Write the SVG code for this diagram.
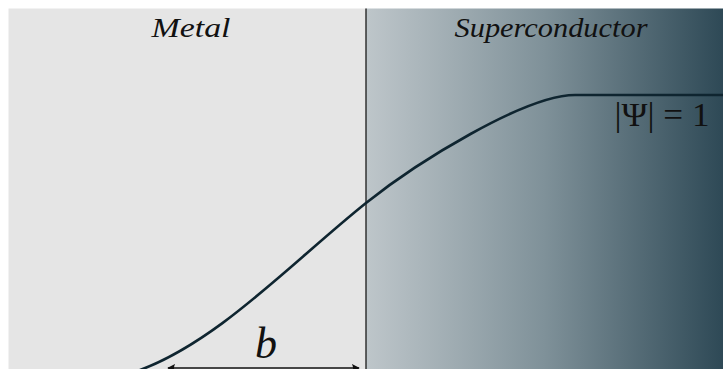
<svg xmlns="http://www.w3.org/2000/svg" width="723" height="369" viewBox="0 0 723 369">
<style>
.lbl{font-family:"Liberation Serif","DejaVu Serif",serif;fill:#111;}
.it{font-style:italic;}
</style>
<defs>
<linearGradient id="sc" x1="0" y1="0" x2="1" y2="0">
<stop offset="0" stop-color="#bec6ca"/>
<stop offset="0.5" stop-color="#7f9199"/>
<stop offset="1" stop-color="#2e4956"/>
</linearGradient>
<marker id="ah" viewBox="0 0 10 10" refX="9" refY="5" markerWidth="8" markerHeight="8" markerUnits="userSpaceOnUse" orient="auto-start-reverse">
<path d="M0,0 L10,5 L0,10 Q3,5 0,0 Z" fill="#111"/>
</marker>
</defs>
<rect x="0" y="0" width="723" height="369" fill="#ffffff"/>
<g id="metal">
<rect x="8.5" y="8.5" width="357.5" height="361" fill="#e5e5e5"/>
<text class="lbl it" x="191" y="37" font-size="27" text-anchor="middle" textLength="79" lengthAdjust="spacingAndGlyphs">Metal</text>
</g>
<g id="superconductor">
<rect x="366" y="8.5" width="357" height="361" fill="url(#sc)"/>
<text class="lbl it" x="551" y="37" font-size="27" text-anchor="middle" textLength="193" lengthAdjust="spacingAndGlyphs">Superconductor</text>
<text class="lbl" x="662" y="126" font-size="33" text-anchor="middle" textLength="95" lengthAdjust="spacingAndGlyphs">|Ψ| = 1</text>
</g>
<g id="interface">
<line x1="366" y1="8.5" x2="366" y2="369" stroke="#1a1a1a" stroke-width="1.3"/>
</g>
<g id="connectors">
<path d="M136,371.5 C 217,343 291,263 366,203 C 416,163 525,95 575,95 L 723,95" fill="none" stroke="#0f2530" stroke-width="2.6" stroke-linecap="round"/>
<line x1="168" y1="368" x2="359" y2="368" stroke="#111" stroke-width="1.5" marker-start="url(#ah)" marker-end="url(#ah)"/>
</g>
<g id="b-label">
<text class="lbl it" x="266" y="358" font-size="44" text-anchor="middle">b</text>
</g>
</svg>
